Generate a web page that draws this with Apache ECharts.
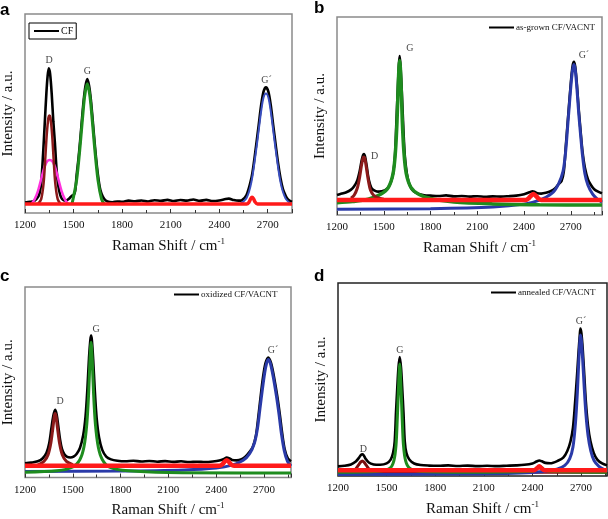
<!DOCTYPE html>
<html><head><meta charset="utf-8">
<script src="https://cdn.jsdelivr.net/npm/echarts@6/dist/echarts.min.js"></script>
<style>html,body{margin:0;padding:0;background:#fff}#c{width:608px;height:519px}</style>
</head><body><div id="c"></div>
<script>
// ---------- tick/axis values ----------
const xMin = 1200;
const xTickStep = 300;
const xMaxes = [2850, 2900, 2870, 2860];
const panelLetters = ['a', 'b', 'c', 'd'];
const sampleNames = ['CF', 'as-grown CF/VACNT', 'oxidized CF/VACNT', 'annealed CF/VACNT'];

// ---------- panel a (CF) ----------
const aExp = [[1200,5.3],[1230,5.6],[1260,6.2],[1280,8],[1290,10],[1300,15],[1312,30],[1322,45],[1332,60],[1340,69],[1347,72.7],[1355,70],[1365,60],[1375,46],[1385,35],[1395,22],[1405,14],[1418,9],[1430,7],[1450,6.2],[1470,7],[1488,8.6],[1500,9],[1510,11],[1519,19],[1530,27],[1541,36.5],[1552,47],[1563,57],[1574,64],[1585,67.3],[1596,64],[1607,57],[1618,47],[1629,36.5],[1640,27],[1651,19],[1662,13],[1673,9.7],[1690,7],[1710,5.8],[1740,5.4],[1770,5.8],[1800,5.6],[1840,6.2],[1880,5.9],[1920,6.3],[1960,5.8],[2000,6.4],[2040,6.1],[2080,6.6],[2120,6.0],[2160,6.5],[2200,6.2],[2240,6.8],[2280,6.1],[2320,6.6],[2360,6.0],[2400,6.3],[2440,7.0],[2460,7.2],[2490,6.5],[2520,6.2],[2539,6.4],[2569,9],[2599,17.5],[2614,25],[2629,34.4],[2644,44],[2659,54],[2674,61],[2689,63.2],[2704,61],[2719,54],[2734,44],[2749,34.4],[2764,25],[2779,17.5],[2794,12],[2809,9],[2825,6.8],[2850,5.6]];
const aD1 = [[1280,4.5],[1300,7],[1315,15],[1325,27],[1335,40],[1345,48],[1351,49],[1357,48],[1367,40],[1377,27],[1387,15],[1402,7],[1420,4.5]];
const aD2 = [[1240,4.5],[1260,7],[1280,11],[1300,17],[1320,23],[1337,26],[1353,26.6],[1369,26],[1386,23],[1406,17],[1426,11],[1446,7],[1466,4.5]];
const aG = [[1490,4.5],[1497,7],[1519,16.5],[1541,34],[1563,54.5],[1574,61.5],[1585,65],[1596,61.5],[1607,54.5],[1629,34],[1651,16.5],[1673,7],[1690,4.5]];
const aG2 = [[2530,4.5],[2569,7.5],[2599,15.5],[2629,32],[2644,41.5],[2659,51],[2674,58],[2689,60],[2704,58],[2719,51],[2734,41.5],[2749,32],[2779,15.5],[2809,7.5],[2845,4.5]];
const aRed = [[1200,4.5],[2570,4.5],[2585,5.5],[2595,7.2],[2603,7.9],[2612,7.2],[2622,5.5],[2637,4.5],[2850,4.5]];
const aLabels = [['D',1349,76.5],['G',1586,71],['G´',2692,66.5]];

// ---------- panel b (as-grown) ----------
const bExp = [[1200,10.1],[1230,10.8],[1260,11.5],[1290,12.8],[1310,14.5],[1330,17.5],[1345,22],[1358,27.5],[1367,30.2],[1373,30.8],[1380,29.5],[1390,25],[1400,19.5],[1412,15.5],[1425,13.2],[1445,12.2],[1465,11.8],[1485,12],[1505,12.4],[1525,13.5],[1545,16.5],[1560,21],[1572,30],[1580,45],[1590,64],[1597,76],[1602,80.3],[1607,76],[1616,62],[1625,45],[1635,30],[1648,21],[1662,16],[1680,13],[1700,11.5],[1730,10.5],[1760,10],[1800,9.8],[1850,9.6],[1900,9.9],[1950,9.4],[2000,9.6],[2050,9.3],[2100,9.5],[2150,9.2],[2200,9.4],[2250,9.3],[2300,9.5],[2350,9.8],[2400,10.5],[2435,11.5],[2455,12],[2465,11.8],[2485,11],[2510,10.8],[2540,11.2],[2570,12],[2600,13.5],[2620,15.5],[2640,17],[2655,22],[2668,35],[2680,47],[2693,60],[2705,71],[2713,76],[2720,77.4],[2728,75],[2738,67],[2750,54],[2762,43],[2775,32],[2790,24],[2810,18],[2830,15],[2850,13],[2875,11.8],[2900,11]];
const bD = [[1290,8.5],[1310,10],[1330,13.5],[1345,19],[1358,25.5],[1367,28.8],[1373,29.3],[1380,28],[1390,23],[1402,17],[1415,12.5],[1435,10],[1460,8.8],[1500,8]];
const bG = [[1200,6.2],[1300,6.8],[1400,8],[1480,10.5],[1530,14],[1560,21],[1575,32],[1585,47],[1593,66],[1598,75],[1602,78],[1606,75],[1611,66],[1619,47],[1629,32],[1644,21],[1674,14],[1724,10.5],[1800,8.3],[1950,6.5],[2200,5.6],[2500,5.2],[2900,5]];
const bG2 = [[1200,2.9],[1800,3.2],[2200,4],[2400,5.5],[2500,7.5],[2580,11],[2620,15.5],[2650,22],[2668,33],[2680,45],[2693,58],[2705,69],[2713,74],[2720,76],[2728,73.5],[2738,65],[2750,52],[2762,41],[2775,30],[2790,21],[2810,15],[2840,10.5],[2870,8],[2900,6.5]];
const bRed = [[1200,7.6],[2410,7.6],[2430,8.5],[2448,10],[2460,10.6],[2472,10],[2490,8.5],[2510,7.6],[2900,7.6]];
const bLabels = [['D',1442,29.4],['G',1668,84],['G´',2784,80.8]];

// ---------- panel c (oxidized) ----------
const cExp = [[1200,7.4],[1240,7.8],[1280,8.5],[1310,10],[1335,13],[1352,18],[1366,26],[1377,32],[1389,35.5],[1399,33],[1409,27],[1420,20],[1432,15],[1447,12.2],[1465,10.8],[1485,10.5],[1505,11],[1525,12.5],[1545,15.5],[1565,22],[1580,32],[1592,47],[1602,63],[1610,72],[1615,74.5],[1620,72],[1628,62],[1638,46],[1650,31],[1665,21],[1685,14.5],[1710,11],[1740,9.5],[1780,8.8],[1830,8.5],[1880,8.8],[1930,8.4],[1980,8.7],[2030,8.3],[2080,8.6],[2130,8.2],[2180,8.5],[2230,8.1],[2280,8.3],[2330,8.1],[2380,8.4],[2420,8.9],[2450,9.8],[2466,10.5],[2480,10.2],[2500,9.2],[2530,9],[2560,9.6],[2585,11],[2605,13],[2630,16],[2650,22],[2665,32],[2680,43],[2695,53],[2710,60],[2727,63],[2745,60],[2765,52],[2785,42],[2800,33],[2815,23],[2830,15],[2850,10],[2870,8.5]];
const cD = [[1280,6.5],[1320,8.5],[1345,12],[1362,18],[1375,26],[1384,32],[1389,33.6],[1395,32],[1404,26],[1417,18],[1434,12],[1460,8.5],[1500,6.8]];
const cG = [[1200,2.8],[1400,3.5],[1500,5.5],[1545,9.5],[1570,16],[1588,28],[1600,45],[1608,62],[1615,71],[1622,62],[1630,45],[1642,28],[1660,16],[1685,9.5],[1730,5.5],[1850,3.5],[2100,2.6],[2600,2.4],[2870,2.4]];
const cG2 = [[1200,3.2],[1800,3.4],[2200,4],[2400,5],[2500,6.5],[2570,9],[2610,12.5],[2640,18],[2660,26],[2675,36],[2690,46],[2705,55],[2717,60],[2727,62],[2740,60],[2758,53],[2778,43],[2795,33],[2810,23],[2828,14],[2848,8.5],[2870,6]];
const cRed = [[1200,6.2],[2420,6.2],[2440,7],[2455,8.5],[2466,9],[2477,8.5],[2492,7],[2512,6.2],[2870,6.2]];
const cLabels = [['D',1420,39.7],['G',1646,78],['G´',2757,66.5]];

// ---------- panel d (annealed) ----------
const dExp = [[1200,5],[1240,5.3],[1280,6],[1310,7.5],[1330,9.5],[1342,11],[1350,11.3],[1358,10.8],[1370,9],[1390,7],[1420,6],[1460,5.8],[1500,6.5],[1525,8.5],[1540,12],[1550,18],[1558,33],[1566,46],[1573,56],[1581,61.6],[1589,56],[1596,46],[1604,33],[1612,18],[1622,12],[1640,8.5],[1670,6.5],[1710,5.7],[1760,5.4],[1820,5.3],[1880,5.5],[1940,5.2],[2000,5.4],[2060,5.1],[2120,5.3],[2180,5.1],[2240,5.3],[2300,5.5],[2350,5.8],[2400,6.5],[2425,7.5],[2442,8],[2458,7.6],[2480,6.8],[2510,6.6],[2560,8],[2590,9.5],[2615,13],[2635,18],[2650,25],[2663,38],[2675,52],[2685,65],[2692,73],[2696,76.4],[2702,74],[2710,66],[2720,52],[2730,38],[2743,26],[2758,18],[2778,12],[2800,8.5],[2830,6.5],[2860,5.5]];
const dD = [[1200,2],[1300,3],[1325,5.5],[1340,7.2],[1350,7.8],[1360,7.2],[1375,5.5],[1400,3],[1500,2],[2860,2]];
const dG = [[1200,2],[1450,2.5],[1520,4],[1545,8],[1558,16],[1566,30],[1573,45],[1581,58],[1589,45],[1596,30],[1604,16],[1617,8],[1642,4],[1700,2.5],[2000,2],[2400,2.5],[2420,3.5],[2445,5],[2470,3.5],[2500,2.5],[2860,2]];
const dG2 = [[1200,0.8],[2000,1],[2400,1.8],[2550,3.5],[2600,5.5],[2630,9],[2650,15],[2665,27],[2677,43],[2686,60],[2692,69],[2696,73],[2702,70],[2710,60],[2720,45],[2730,32],[2743,21],[2760,13],[2780,8],[2810,5],[2840,3.5],[2860,3]];
const dRed = [[1200,3],[2410,3],[2428,4],[2442,5],[2456,4],[2474,3],[2860,3]];
const dLabels = [['D',1356,13.8],['G',1581,65],['G´',2700,80]];

// ---------- build ----------
const panels = [
  {exp:aExp, comps:[[aD2,'#ff33dd',2.5],[aD1,'#8b1a1a',2.5],[aG,'#1e8c1e',3],[aG2,'#3a4fc0',2],[aRed,'#ff1a1a',3.5]], labels:aLabels},
  {exp:bExp, comps:[[bG2,'#2a3aa8',3],[bG,'#1e8c1e',3.5],[bD,'#8b1a1a',3],[bRed,'#ff1a1a',4.5]], labels:bLabels},
  {exp:cExp, comps:[[cG2,'#2a3aa8',3],[cG,'#1e8c1e',3],[cD,'#8b1a1a',3],[cRed,'#ff1a1a',4.5]], labels:cLabels},
  {exp:dExp, comps:[[dD,'#7a0f0f',3],[dG2,'#2a3aa8',3],[dG,'#1e8c1e',3],[dRed,'#ff1a1a',4.5]], labels:dLabels}
];
const gridBoxes = [
  {left:23, top:14, width:269, height:199},
  {left:337, top:17, width:265, height:198},
  {left:21, top:287, width:270, height:197},
  {left:338, top:283, width:269, height:193}
];
const serif = 'Liberation Serif';
const grids = [], xAxes = [], yAxes = [], series = [], legends = [], titles = [];
const letterPos = [[0,2],[314,0],[0,268],[314,268]];
const legendPos = [
  {left:29, top:23, boxed:true},
  {left:489, top:23},
  {left:174, top:290},
  {left:491, top:288}
];
panels.forEach((p, i) => {
  const g = gridBoxes[i];
  grids.push(Object.assign({show:true, borderColor: i===3 ? '#222' : '#8a8a8a', borderWidth:1.5, backgroundColor:'transparent'}, g));
  xAxes.push({type:'value', gridIndex:i, min:xMin, max:xMaxes[i], interval:xTickStep,
    axisLine:{show:false}, splitLine:{show:false},
    axisTick:{inside:true, length:4, lineStyle:{color:'#333'}},
    minorTick:{show:true, splitNumber:2, length:3, lineStyle:{color:'#333'}},
    axisLabel:{fontFamily:serif, fontSize:11, color:'#111', margin:7, showMaxLabel:false,
      formatter:(v) => String(v)},
    name:'Raman Shift / cm{sup|-1}', nameLocation:'middle', nameGap:24,
    nameTextStyle:{fontFamily:serif, fontSize:15, color:'#111', padding:[0,0,0,20],
      rich:{sup:{fontFamily:serif, fontSize:9, color:'#111', padding:[0,0,9,0]}}}
  });
  yAxes.push({type:'value', gridIndex:i, min:0, max:100,
    axisLine:{show:false}, axisTick:{show:false}, axisLabel:{show:false}, splitLine:{show:false},
    name:'Intensity / a.u.', nameLocation:'middle', nameGap:9,
    nameTextStyle:{fontFamily:serif, fontSize:15, color:'#111'}
  });
  series.push({type:'line', name:sampleNames[i], xAxisIndex:i, yAxisIndex:i, data:p.exp,
    smooth:0.3, symbol:'none', lineStyle:{color:'#000', width:2.6}, itemStyle:{color:'#000'}, z:2});
  p.comps.forEach((c, k) => {
    series.push({type:'line', name:'comp'+i+'_'+k, xAxisIndex:i, yAxisIndex:i, data:c[0],
      smooth:0.3, symbol:'none', lineStyle:{color:c[1], width:c[2]}, z:3});
  });
  series.push({type:'scatter', name:'lab'+i, xAxisIndex:i, yAxisIndex:i, symbolSize:0,
    data:p.labels.map(l => ({name:l[0], value:[l[1], l[2]]})),
    label:{show:true, position:'inside', formatter:'{b}', fontFamily:serif, fontSize:10, color:'#111'}, z:5});
  const lp = legendPos[i];
  legends.push({data:[sampleNames[i]], left:lp.left, top:lp.top, orient:'horizontal',
    icon:'rect', itemWidth:25, itemHeight:2, itemGap:2,
    padding: lp.boxed ? [3,3,3,5] : 0,
    borderColor: lp.boxed ? '#000' : 'transparent', borderWidth: lp.boxed ? 1 : 0,
    textStyle:{fontFamily:serif, fontSize: lp.boxed ? 10 : 9, color:'#111', padding:[0,0,0,-3]}, selectedMode:false});
  titles.push({text:panelLetters[i], left:letterPos[i][0], top:letterPos[i][1], padding:0,
    textStyle:{fontFamily:'Liberation Sans', fontSize:17, fontWeight:'bold', color:'#000'}});
});
const chart = echarts.init(document.getElementById('c'), null, {renderer:'canvas'});
chart.setOption({animation:false, backgroundColor:'#fff', title:titles, legend:legends,
  grid:grids, xAxis:xAxes, yAxis:yAxes, series:series});
</script></body></html>
